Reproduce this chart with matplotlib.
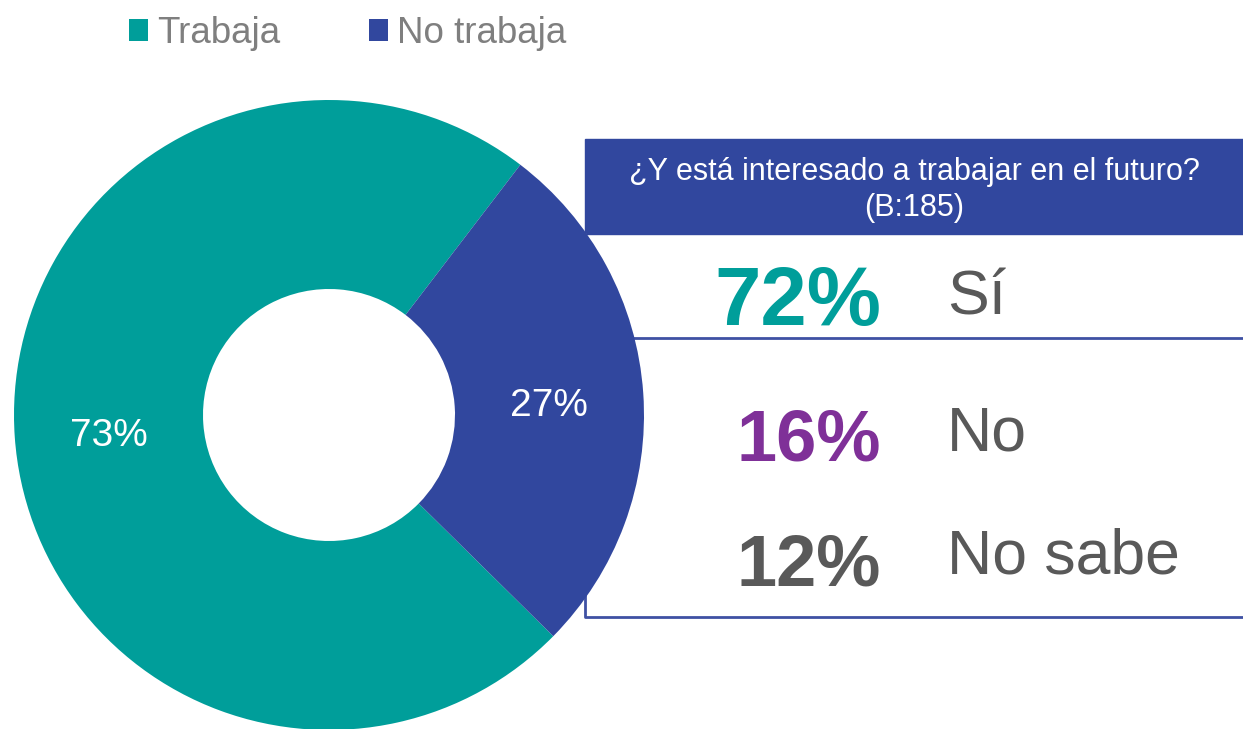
import matplotlib.pyplot as plt
from matplotlib.patches import Patch, Rectangle

plt.rcParams['font.family'] = ['Liberation Sans', 'DejaVu Sans']

# donut data
groups = ["Trabaja", "No trabaja"]
shares = [73, 27]
group_colors = ["#009E9A", "#31479E"]

# side table data
question = "¿Y está interesado a trabajar en el futuro?\n(B:185)"
answers = ["Sí", "No", "No sabe"]
answer_pcts = [72, 16, 12]
answer_colors = ["#009E9A", "#7F3098", "#595959"]

W, H = 1243, 729
fig = plt.figure(figsize=(W / 100, H / 100), dpi=100)
ax = fig.add_axes([0, 0, 1, 1])

def Y(y):
    # pixel row (from top) -> data y
    return H - y

blue = "#31479E"

# table frame (drawn below donut)
ax.add_patch(Rectangle((585, Y(234)), W - 585, 95, color=blue, zorder=1))
ax.plot([585, 585, W], [Y(234), Y(617), Y(617)], color="#3F51A3", lw=2, zorder=1)
ax.plot([585, W], [Y(338), Y(338)], color="#3F51A3", lw=2, zorder=1)
ax.text(914, Y(190), question, ha="center", va="center", color="white",
        fontsize=22, linespacing=1.25, zorder=3)

# donut
wedges, _, autotexts = ax.pie(
    shares, colors=group_colors, startangle=-44.6, counterclock=False,
    radius=315, center=(329, Y(415)), wedgeprops=dict(width=189, linewidth=0),
    autopct="%.0f%%", pctdistance=0.7,
    textprops=dict(color="white", fontsize=28))
for w in wedges:
    w.set_zorder(2)
for t in autotexts:
    t.set_zorder(3)
    x0, y0 = t.get_position()
    t.set_position((x0, y0 - 6))

# answers
pct_sizes = [60, 52, 52]
pct_base = [325, 460, 585]
lab_base = [314, 450, 574]
for i, (a, p) in enumerate(zip(answers, answer_pcts)):
    ax.text(881, Y(pct_base[i]), f"{p}%", ha="right", va="baseline",
            color=answer_colors[i], fontsize=pct_sizes[i], fontweight="bold")
    ax.text(947, Y(lab_base[i]), a, ha="left", va="baseline",
            color="#595959", fontsize=45)

ax.set_xlim(0, W)
ax.set_ylim(0, H)
ax.set_aspect("auto")
ax.axis("off")

handles = [Patch(facecolor=c, edgecolor="none") for c in group_colors]
fig.legend(handles, groups, loc="upper left", bbox_to_anchor=(129 / W, 1 - 16 / H),
           ncol=2, frameon=False, fontsize=26.5, labelcolor="#7F7F7F",
           handlelength=0.52, handleheight=0.52, handletextpad=0.25,
           columnspacing=2.4, borderpad=0, borderaxespad=0)

fig.savefig("out.png", dpi=100)
